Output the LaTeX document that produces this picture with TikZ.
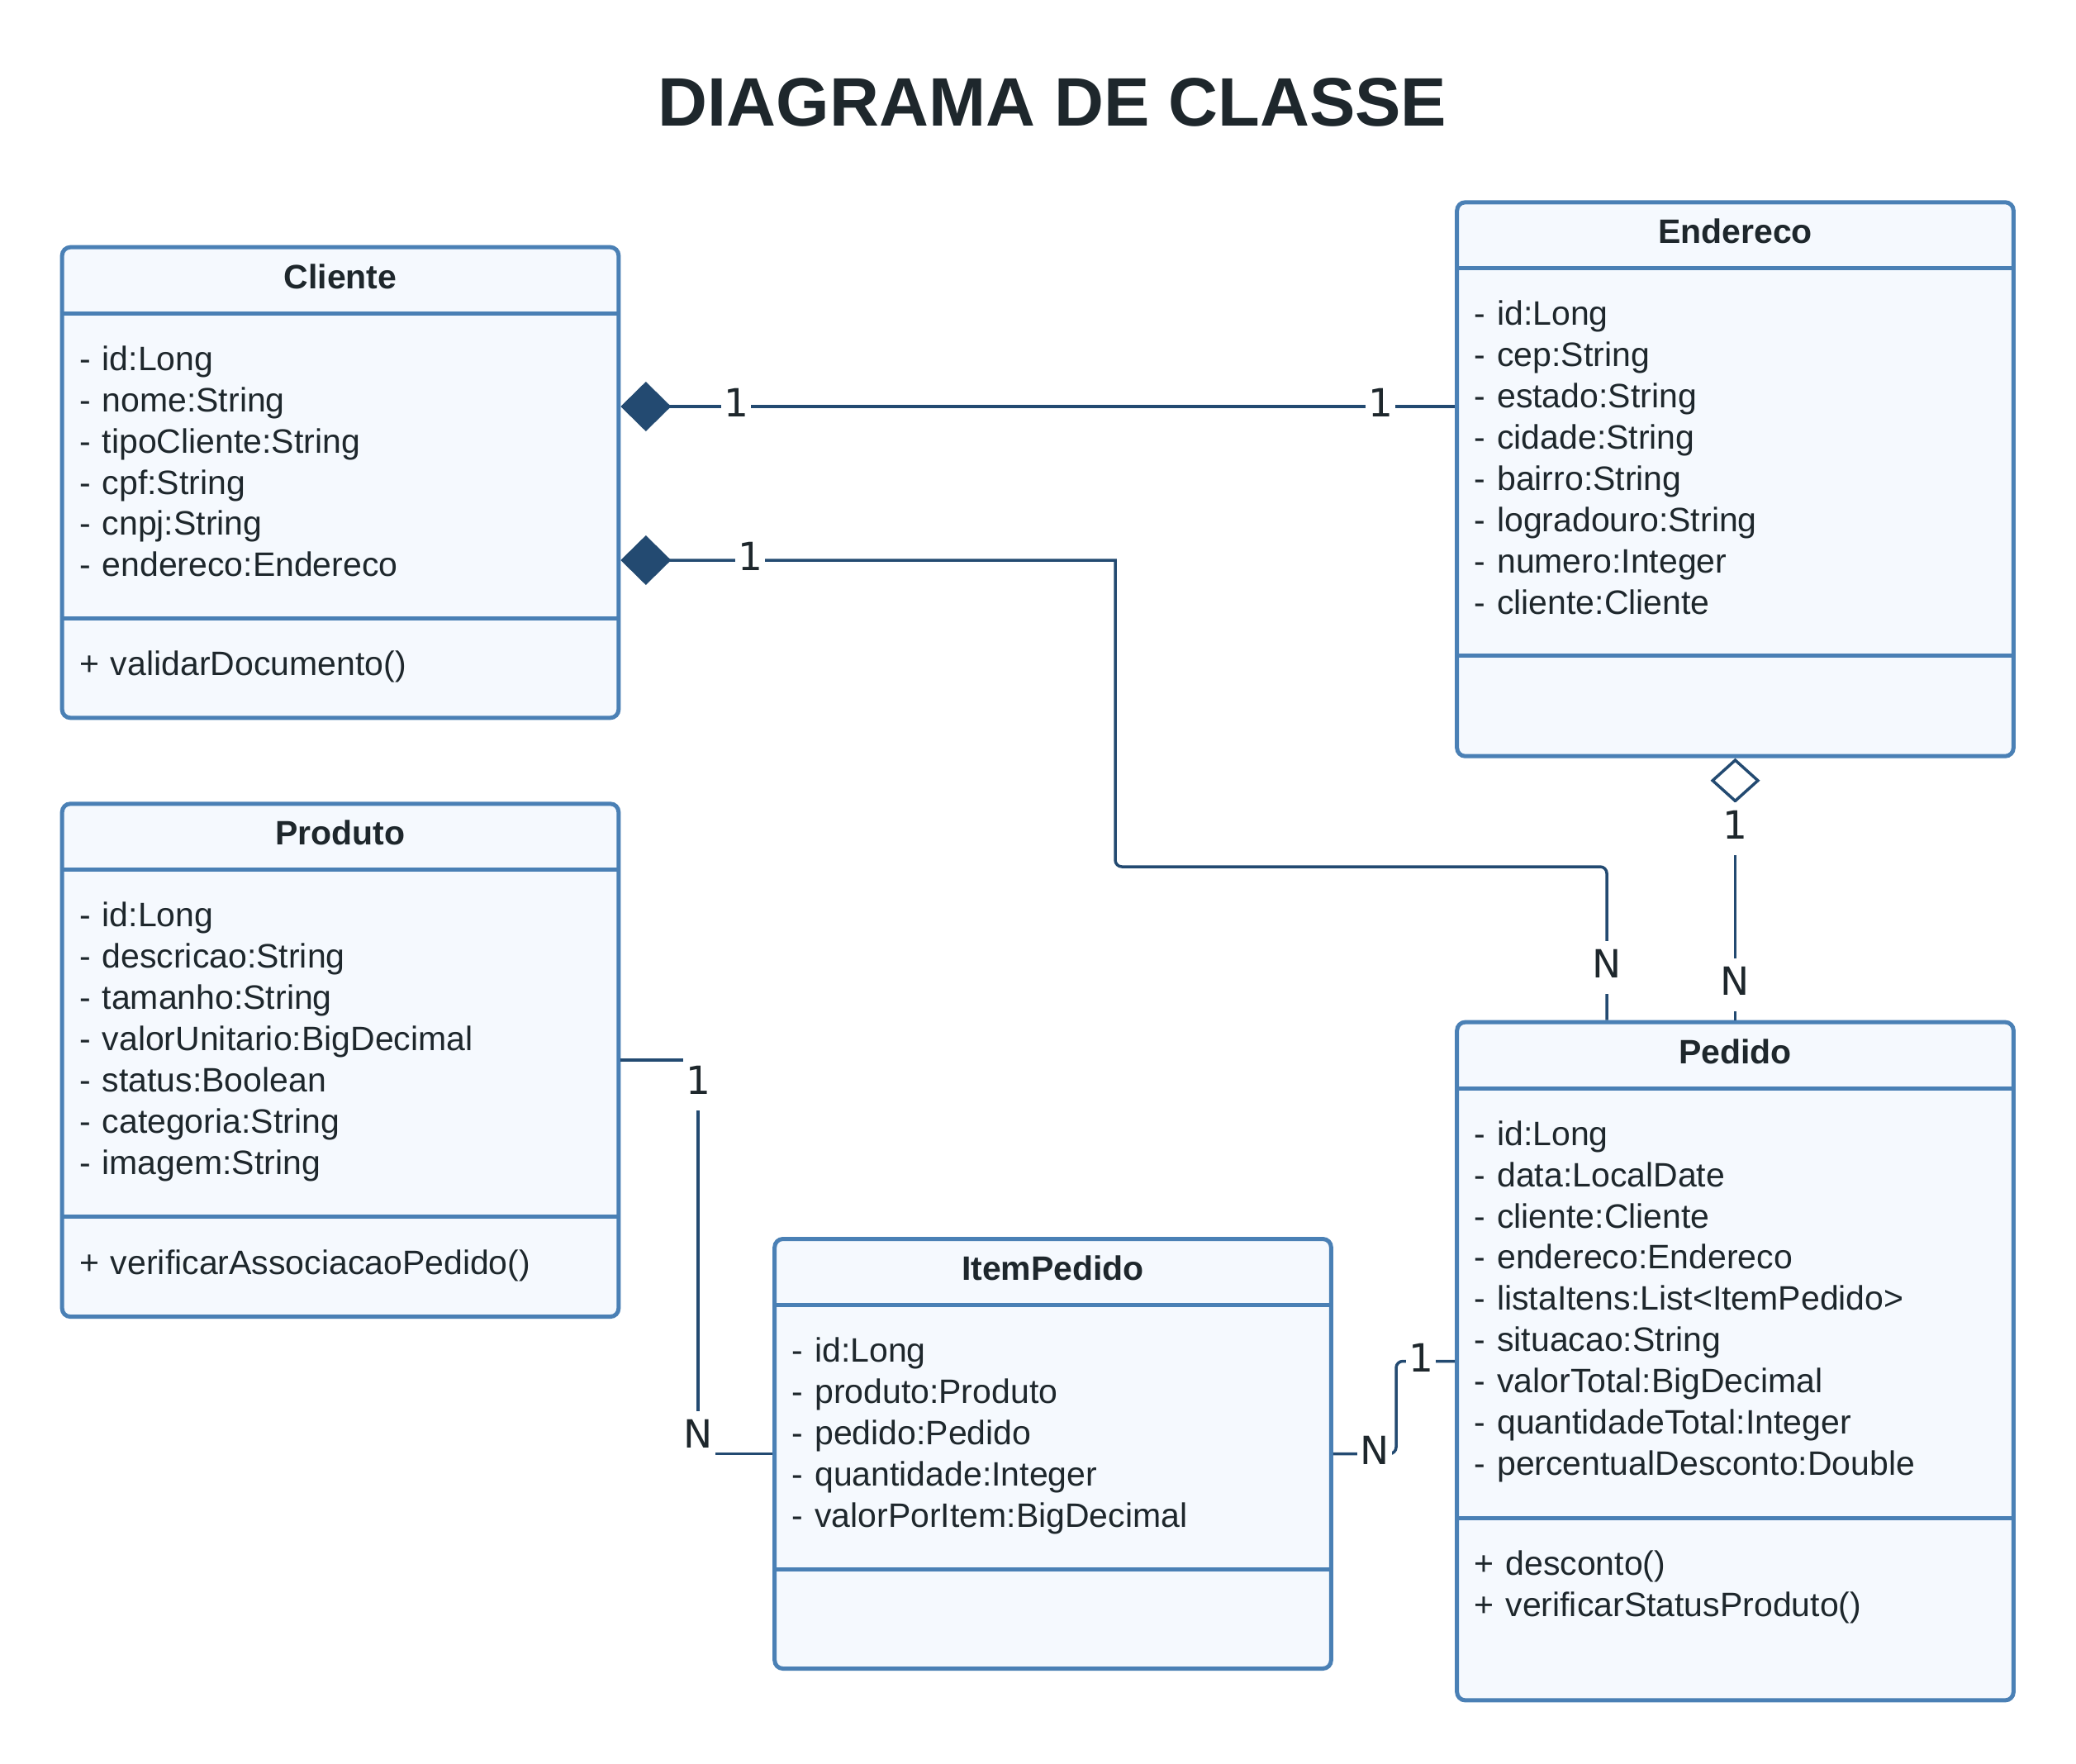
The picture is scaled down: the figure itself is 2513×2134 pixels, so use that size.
\documentclass[tikz,border=0pt]{standalone}
\usepackage{fontspec}
\setmainfont{Liberation Sans}
\newfontfamily\labelfont{DejaVu Sans}
\usetikzlibrary{arrows.meta}
\definecolor{boxborder}{HTML}{4A80B5}
\definecolor{boxfill}{HTML}{F5F9FE}
\definecolor{linec}{HTML}{234A71}
\definecolor{textc}{HTML}{1E272C}
\begin{document}
\begin{tikzpicture}[x=1pt,y=-1pt,
  classbox/.style={draw=boxborder, fill=boxfill, line width=5pt, rounded corners=10pt, minimum width=673.6pt, inner sep=0pt},
  sepline/.style={draw=boxborder, line width=5pt},
  classname/.style={anchor=base, inner sep=0pt, text=textc, font=\fontsize{41}{49.9}\selectfont\bfseries},
  members/.style={anchor=base west, inner sep=0pt, text=textc, text width=620pt, align=left, font=\fontsize{41}{49.9}\selectfont},
  conn/.style={draw=linec, line width=3.5pt},
  mult/.style={fill=white, text=textc, font=\labelfont\fontsize{47}{56}\selectfont, inner xsep=3pt, inner ysep=8pt, text height=37pt, text depth=11.5pt},
  titletext/.style={anchor=base, inner sep=0pt, text=textc, font=\fontsize{83}{96}\selectfont\bfseries}
]
\fill[white] (0,0) rectangle (2513,2134);
\useasboundingbox (0,0) rectangle (2513,2134);

\node[titletext] (title) at (1274,152) {DIAGRAMA DE CLASSE};

% Cliente
\node[classbox, minimum height=569.6pt] (cliente) at (412,584) {};
\draw[sepline] (cliente.west |- 0,379.2) -- (cliente.east |- 0,379.2);
\draw[sepline] (cliente.west |- 0,748.8) -- (cliente.east |- 0,748.8);
\node[classname] (clientename) at (412,349.1) {Cliente};
\node[members] (clienteattr) at (96.2,448.3) {- id:Long\\- nome:String\\- tipoCliente:String\\- cpf:String\\- cnpj:String\\- endereco:Endereco};
\node[members] (clienteops) at (96.2,817.9) {+ validarDocumento()};

% Endereco
\node[classbox, minimum height=670.4pt] (endereco) at (2100.5,580) {};
\draw[sepline] (endereco.west |- 0,324.8) -- (endereco.east |- 0,324.8);
\draw[sepline] (endereco.west |- 0,793.6) -- (endereco.east |- 0,793.6);
\node[classname] (endereconame) at (2100.5,294.7) {Endereco};
\node[members] (enderecoattr) at (1784.7,393.9) {- id:Long\\- cep:String\\- estado:String\\- cidade:String\\- bairro:String\\- logradouro:String\\- numero:Integer\\- cliente:Cliente};

% Produto
\node[classbox, minimum height=620.8pt] (produto) at (412,1283.2) {};
\draw[sepline] (produto.west |- 0,1052.8) -- (produto.east |- 0,1052.8);
\draw[sepline] (produto.west |- 0,1472) -- (produto.east |- 0,1472);
\node[classname] (produtoname) at (412,1022.7) {Produto};
\node[members] (produtoattr) at (96.2,1121.9) {- id:Long\\- descricao:String\\- tamanho:String\\- valorUnitario:BigDecimal\\- status:Boolean\\- categoria:String\\- imagem:String};
\node[members] (produtoops) at (96.2,1542.7) {+ verificarAssociacaoPedido()};

% ItemPedido
\node[classbox, minimum height=520pt] (itempedido) at (1274.5,1759.5) {};
\draw[sepline] (itempedido.west |- 0,1579.5) -- (itempedido.east |- 0,1579.5);
\draw[sepline] (itempedido.west |- 0,1899.5) -- (itempedido.east |- 0,1899.5);
\node[classname] (itempedidoname) at (1274.5,1549.4) {ItemPedido};
\node[members] (itempedidoattr) at (958.7,1648.6) {- id:Long\\- produto:Produto\\- pedido:Pedido\\- quantidade:Integer\\- valorPorItem:BigDecimal};

% Pedido
\node[classbox, minimum height=820.8pt] (pedido) at (2100.5,1647.5) {};
\draw[sepline] (pedido.west |- 0,1317.1) -- (pedido.east |- 0,1317.1);
\draw[sepline] (pedido.west |- 0,1837.1) -- (pedido.east |- 0,1837.1);
\node[classname] (pedidoname) at (2100.5,1287) {Pedido};
\node[members] (pedidoattr) at (1784.7,1386.2) {- id:Long\\- data:LocalDate\\- cliente:Cliente\\- endereco:Endereco\\- listaItens:List<ItemPedido>\\- situacao:String\\- valorTotal:BigDecimal\\- quantidadeTotal:Integer\\- percentualDesconto:Double};
\node[members] (pedidoops) at (1784.7,1906.2) {+ desconto()\\+ verificarStatusProduto()};

% Connectors
\draw[conn, {Diamond[length=61pt,width=60pt]}-] (cliente.east |- 0,492) -- (endereco.west |- 0,492);
\draw[conn, {Diamond[length=61pt,width=60pt]}-] (cliente.east |- 0,678) -- (1350,678)
  [rounded corners=8pt] -- (1350,1049) -- (1945,1049) -- (pedido.north -| 1945,0);
\draw[conn, {Diamond[open,fill=white,length=54pt,width=60pt]}-] (endereco.south) -- (pedido.north);
\draw[conn] (produto.east) -| (845,1500) |- (itempedido.west);
\draw[conn, rounded corners=8pt] (itempedido.east) -| (1690,1700) |- (pedido.west);

% Multiplicities
\node[mult] (m1a) at (891,492) {1};
\node[mult] (m1b) at (1671,492) {1};
\node[mult] (m2a) at (908,678) {1};
\node[mult] (m2b) at (1945,1171) {N};
\node[mult] (m3a) at (2100.5,1003) {1};
\node[mult] (m3b) at (2100.5,1192) {N};
\node[mult] (m4a) at (845,1312) {1};
\node[mult] (m4b) at (845,1740) {N};
\node[mult] (m5a) at (1664,1759.5) {N};
\node[mult] (m5b) at (1720,1647.5) {1};
\end{tikzpicture}
\end{document}
